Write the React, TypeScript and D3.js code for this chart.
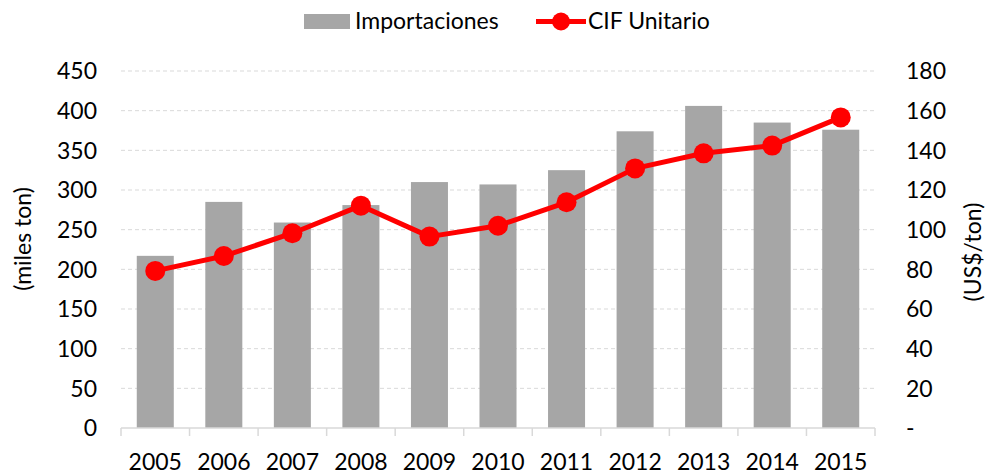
import React from "react";
import * as d3 from "d3";

const years = ["2005","2006","2007","2008","2009","2010","2011","2012","2013","2014","2015"];
const importaciones = [217, 285, 259, 281, 310, 307, 325, 374, 406, 385, 376];
const cifUnitario = [79.2, 86.7, 98.2, 112.1, 96.5, 102, 113.8, 130.9, 138.5, 142.4, 156.6];
const leftTicks = [0, 50, 100, 150, 200, 250, 300, 350, 400, 450];
const rightTicks = [0, 20, 40, 60, 80, 100, 120, 140, 160, 180];

const W = 987, H = 475;
const L = 121, R = 875, T = 71, B = 428;
const FONT = "Lato, 'Open Sans', sans-serif";
const FS = 23;

export default function App() {
  const x = d3.scaleBand<string>().domain(years).range([L, R]).paddingInner(0.46).paddingOuter(0.23);
  const band = d3.scaleBand<string>().domain(years).range([L, R]);
  const yL = d3.scaleLinear().domain([0, 450]).range([B, T]);
  const yR = d3.scaleLinear().domain([0, 180]).range([B, T]);
  const cx = (i: number) => (band(years[i]) as number) + band.bandwidth() / 2;
  const line = d3.line<number>().x((_, i) => cx(i)).y(d => yR(d));
  const tickXs = years.map(y => band(y) as number).concat([R]);

  return (
    <svg width={W} height={H} style={{ position: "absolute", left: 0, top: 0, background: "#fff" }} fontFamily={FONT}>
      {leftTicks.slice(1).map(t => (
        <line key={"g" + t} x1={L} x2={R} y1={yL(t)} y2={yL(t)} stroke="#d9d9d9" strokeWidth={1} strokeDasharray="4,3" />
      ))}
      {years.map((yr, i) => (
        <rect key={yr} x={x(yr)} y={yL(importaciones[i])} width={x.bandwidth()} height={B - yL(importaciones[i])} fill="#a6a6a6" />
      ))}
      <line x1={L} x2={R} y1={B} y2={B} stroke="#d9d9d9" strokeWidth={1.5} />
      {tickXs.map((tx, i) => (
        <line key={"t" + i} x1={tx} x2={tx} y1={B} y2={B + 8} stroke="#d9d9d9" strokeWidth={1.5} />
      ))}
      <path d={line(cifUnitario) || ""} fill="none" stroke="#ff0000" strokeWidth={5} strokeLinejoin="round" />
      {cifUnitario.map((v, i) => (
        <circle key={"c" + i} cx={cx(i)} cy={yR(v)} r={10} fill="#ff0000" />
      ))}
      {leftTicks.map(t => (
        <text key={"l" + t} x={97} y={yL(t)} dy="0.36em" textAnchor="end" fontSize={FS} fill="#000">{t}</text>
      ))}
      {rightTicks.map(t => (
        <text key={"r" + t} x={906} y={yR(t)} dy="0.36em" textAnchor="start" fontSize={FS} fill="#000">{t === 0 ? "-" : t}</text>
      ))}
      {years.map(yr => (
        <text key={"x" + yr} x={(band(yr) as number) + band.bandwidth() / 2} y={470} textAnchor="middle" fontSize={FS} fill="#000">{yr}</text>
      ))}
      <text transform={`translate(31,239) rotate(-90)`} textAnchor="middle" fontSize={FS} fill="#000">(miles ton)</text>
      <text transform={`translate(981,252) rotate(-90)`} textAnchor="middle" fontSize={FS} fill="#000">(US$/ton)</text>
      <rect x={304} y={14} width={46} height={15} fill="#a6a6a6" />
      <text x={355} y={29} fontSize={FS} fill="#000">Importaciones</text>
      <line x1={536} x2={586} y1={21.5} y2={21.5} stroke="#ff0000" strokeWidth={5} />
      <circle cx={561} cy={21.5} r={9} fill="#ff0000" />
      <text x={588} y={29} fontSize={FS} fill="#000">CIF Unitario</text>
    </svg>
  );
}
